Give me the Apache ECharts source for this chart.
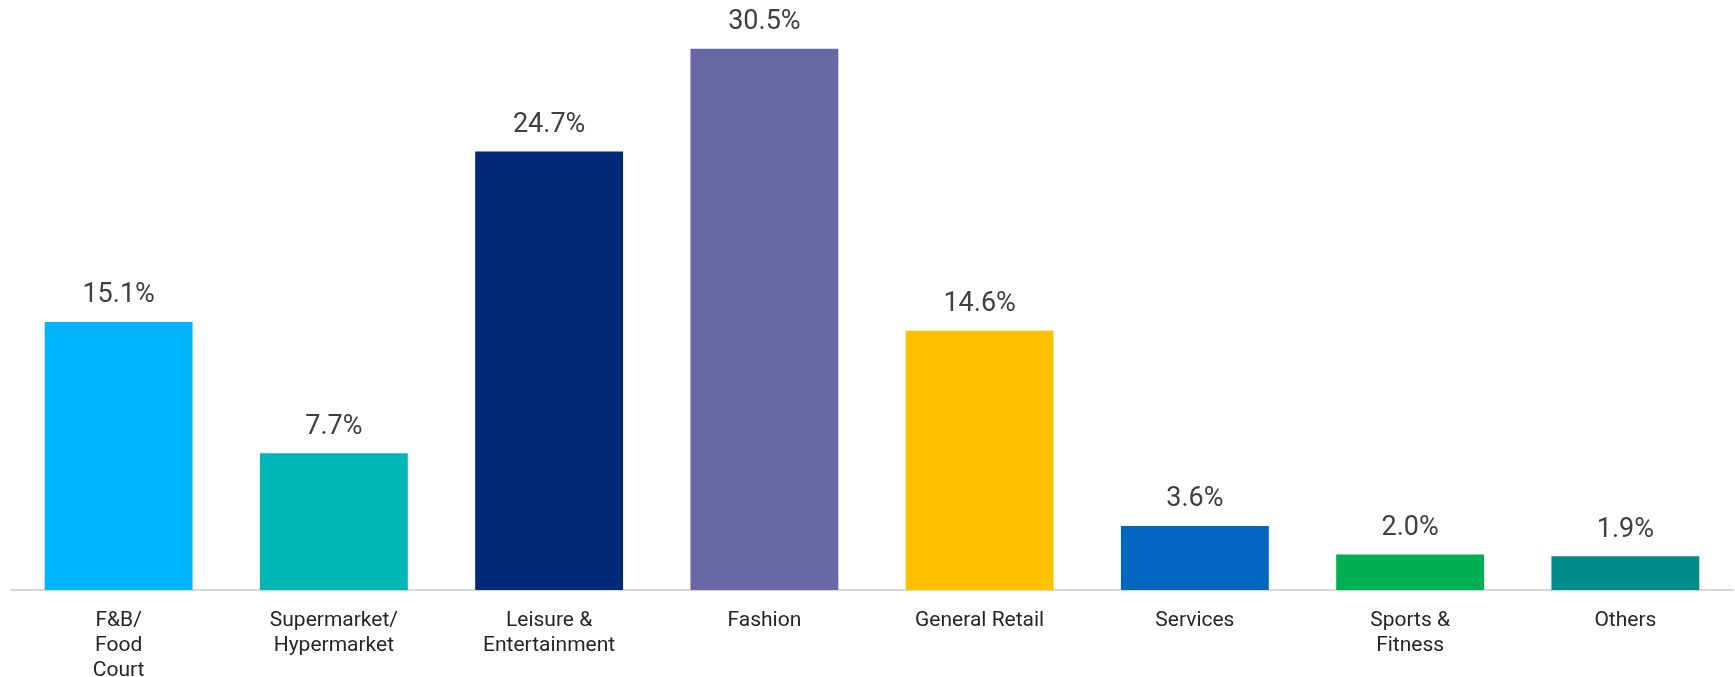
<!DOCTYPE html>
<html>
<head>
<meta charset="utf-8">
<script src="https://cdn.jsdelivr.net/npm/echarts@6/dist/echarts.min.js"></script>
<style>
  html, body { margin: 0; padding: 0; background: #ffffff; }
  #chart { width: 1735px; height: 677px; }
</style>
</head>
<body>
<div id="chart"></div>
<script>
// Share of space by trade category (%)
const categories = [
  'F&B/\nFood\nCourt',
  'Supermarket/\nHypermarket',
  'Leisure &\nEntertainment',
  'Fashion',
  'General Retail',
  'Services',
  'Sports &\nFitness',
  'Others'
];
const shares = [15.1, 7.7, 24.7, 30.5, 14.6, 3.6, 2.0, 1.9];
const barColors = ['#00B6FF', '#00B7B7', '#002A78', '#6A67A6', '#FFC000', '#0066BF', '#00B050', '#008B88'];

const chart = echarts.init(document.getElementById('chart'), null, { renderer: 'canvas' });
chart.setOption({
  backgroundColor: '#ffffff',
  animation: false,
  grid: {
    left: 11, right: 2, top: 22, bottom: 87,
    containLabel: false,
    // keep the plot area fixed even though the three-line label runs to the bottom edge
    outerBoundsMode: 'none'
  },
  xAxis: {
    type: 'category',
    data: categories,
    axisLine: { show: true, lineStyle: { color: '#d9d9d9', width: 2 } },
    axisTick: { show: false },
    axisLabel: {
      interval: 0,
      margin: 18,
      color: '#262626',
      fontFamily: 'Roboto, "DejaVu Sans", sans-serif',
      fontSize: 21,
      lineHeight: 25
    }
  },
  yAxis: {
    type: 'value',
    min: 0,
    max: 32,
    show: false,
    splitLine: { show: false }
  },
  series: [{
    type: 'bar',
    barWidth: '68.7%',
    data: shares.map((v, i) => ({ value: v, itemStyle: { color: barColors[i] } })),
    label: {
      show: true,
      position: 'top',
      distance: 13,
      color: '#404040',
      fontFamily: 'Roboto, "DejaVu Sans", sans-serif',
      fontSize: 27,
      formatter: p => p.value.toFixed(1) + '%'
    }
  }]
});
</script>
</body>
</html>
